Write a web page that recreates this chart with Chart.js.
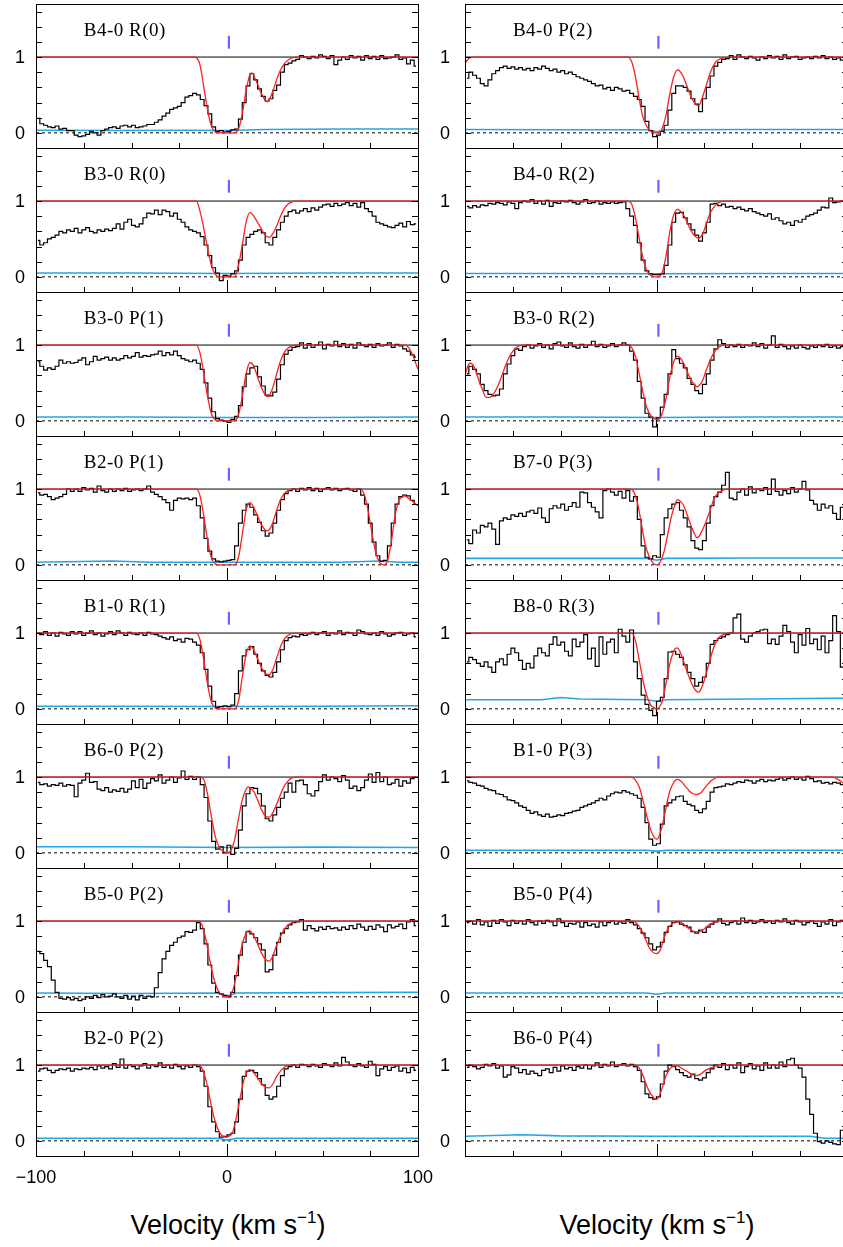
<!DOCTYPE html>
<html>
<head>
<meta charset="utf-8">
<script src="https://cdn.jsdelivr.net/npm/chart.js@4.4.0/dist/chart.umd.min.js"></script>
<style>
  body { margin: 0; background: #fff; overflow: hidden; }
  #wrap { position: relative; width: 843px; height: 1247px; overflow: hidden; }
  #wrap canvas { position: absolute; }
  .vt { position: absolute; width: 300px; top: 1208px; text-align: center;
        font: 27px "Liberation Sans", Arial, sans-serif; line-height: 34px; color: #000; }
  .vt sup { font-size: 17px; vertical-align: 11px; line-height: 0; }
</style>
</head>
<body>
<div id="wrap">
  <div class="vt" style="left:78px">Velocity (km s<sup>−1</sup>)</div>
  <div class="vt" style="left:507px">Velocity (km s<sup>−1</sup>)</div>
</div>
<script>
// velocity grid of the spectra: 2 km/s pixels, centres from -99 to 99
const velocity = Array.from({ length: 100 }, (_, i) => -99 + 2 * i);

// ---- normalised flux, left column ----
const fluxB40R0 = [
  0.19, 0.12, 0.10, 0.08, 0.07, 0.09, 0.05, 0.06, 0.03, 0.03,
  -0.03, -0.05, -0.04, -0.02, 0.02, 0.00, -0.03, 0.03, 0.05, 0.07,
  0.08, 0.06, 0.09, 0.10, 0.08, 0.10, 0.07, 0.08, 0.09, 0.11,
  0.11, 0.14, 0.17, 0.22, 0.26, 0.31, 0.33, 0.35, 0.40, 0.47,
  0.49, 0.52, 0.50, 0.44, 0.36, 0.25, 0.08, 0.02, 0.03, 0.01,
  0.02, 0.04, 0.05, 0.18, 0.40, 0.62, 0.78, 0.70, 0.58, 0.48,
  0.42, 0.45, 0.56, 0.63, 0.80, 0.90, 0.92, 0.95, 0.97, 1.02,
  1.00, 0.98, 1.01, 0.99, 1.03, 1.01, 0.98, 1.02, 0.90, 0.96,
  1.00, 0.97, 1.02, 0.99, 1.01, 0.96, 1.02, 0.98, 1.01, 0.97,
  1.02, 0.98, 0.99, 1.00, 1.03, 0.97, 0.99, 0.91, 0.96, 0.88
];
const fluxB30R0 = [
  0.48, 0.42, 0.45, 0.50, 0.52, 0.55, 0.60, 0.58, 0.62, 0.60,
  0.64, 0.58, 0.62, 0.65, 0.60, 0.58, 0.62, 0.60, 0.63, 0.61,
  0.64, 0.70, 0.63, 0.72, 0.76, 0.68, 0.66, 0.70, 0.78, 0.84,
  0.83, 0.88, 0.82, 0.88, 0.86, 0.80, 0.84, 0.76, 0.72, 0.66,
  0.62, 0.60, 0.58, 0.53, 0.42, 0.28, 0.12, 0.05, -0.05, 0.02,
  0.01, 0.04, 0.08, 0.22, 0.42, 0.52, 0.56, 0.60, 0.62, 0.58,
  0.45, 0.42, 0.52, 0.62, 0.72, 0.80, 0.86, 0.88, 0.84, 0.87,
  0.90, 0.86, 0.91, 0.88, 0.92, 0.95, 0.96, 0.93, 0.97, 0.94,
  0.96, 0.98, 0.94, 0.97, 0.92, 0.98, 0.90, 0.86, 0.80, 0.72,
  0.70, 0.68, 0.66, 0.65, 0.68, 0.71, 0.66, 0.73, 0.69, 0.70
];
const fluxB30P1 = [
  0.78, 0.72, 0.67, 0.70, 0.68, 0.72, 0.80, 0.76, 0.78, 0.76,
  0.77, 0.80, 0.83, 0.74, 0.78, 0.85, 0.80, 0.82, 0.84, 0.80,
  0.83, 0.80, 0.82, 0.86, 0.83, 0.85, 0.90, 0.84, 0.86, 0.85,
  0.87, 0.88, 0.92, 0.86, 0.90, 0.87, 0.92, 0.86, 0.82, 0.80,
  0.78, 0.80, 0.76, 0.68, 0.50, 0.30, 0.12, 0.03, 0.01, 0.00,
  -0.02, 0.02, 0.06, 0.20, 0.45, 0.62, 0.70, 0.72, 0.58, 0.46,
  0.34, 0.33, 0.38, 0.55, 0.74, 0.88, 0.93, 0.97, 0.98, 1.03,
  0.96, 1.02, 0.97, 1.00, 1.04, 0.95, 1.01, 0.99, 1.05, 0.98,
  1.02, 0.97, 1.01, 0.96, 1.03, 1.00, 0.98, 1.01, 0.97, 1.02,
  0.99, 1.00, 1.03, 0.97, 1.01, 0.99, 0.95, 0.92, 0.87, 0.84
];
const fluxB20P1 = [
  0.95, 0.92, 0.93, 0.90, 0.86, 0.88, 0.90, 0.93, 1.00, 0.97,
  1.00, 0.97, 1.02, 0.99, 1.01, 0.96, 1.04, 0.98, 0.96, 1.00,
  0.97, 1.00, 0.98, 1.01, 0.97, 0.99, 1.00, 0.98, 1.00, 1.04,
  0.96, 0.93, 0.90, 0.86, 0.82, 0.72, 0.85, 0.88, 0.87, 0.88,
  0.86, 0.88, 0.78, 0.62, 0.35, 0.18, 0.08, 0.05, 0.04, 0.05,
  0.06, 0.07, 0.25, 0.55, 0.72, 0.80, 0.76, 0.66, 0.56, 0.45,
  0.38, 0.42, 0.55, 0.72, 0.86, 0.94, 0.98, 1.00, 0.97, 1.01,
  0.99, 1.02, 0.98, 1.01, 0.97, 1.00, 1.02, 0.99, 1.01, 0.98,
  1.00, 1.01, 0.99, 0.97, 1.00, 0.92, 0.80, 0.55, 0.30, 0.12,
  0.05, 0.06, 0.25, 0.55, 0.80, 0.90, 0.92, 0.91, 0.85, 0.80
];
const fluxB10R1 = [
  1.00, 0.98, 1.02, 0.97, 1.00, 0.96, 1.01, 0.99, 0.97, 1.02,
  0.99, 1.02, 0.97, 1.00, 1.03, 0.98, 1.00, 0.96, 0.99, 1.02,
  0.98, 1.03, 1.00, 0.97, 1.01, 0.99, 0.98, 1.00, 0.97, 1.01,
  0.99, 0.98, 0.96, 0.94, 0.92, 0.95, 0.90, 0.92, 0.88, 0.93,
  0.92, 0.88, 0.84, 0.74, 0.52, 0.30, 0.10, 0.02, 0.03, 0.04,
  0.03, 0.05, 0.20, 0.50, 0.70, 0.78, 0.82, 0.72, 0.60, 0.50,
  0.44, 0.42, 0.48, 0.62, 0.78, 0.90, 0.94, 0.96, 0.95, 0.98,
  0.97, 0.99, 1.01, 0.98, 1.00, 1.02, 0.97, 1.00, 0.99, 1.03,
  0.98, 1.01, 1.00, 0.97, 1.04, 1.02, 0.99, 0.98, 1.00, 0.97,
  1.02, 0.99, 0.96, 0.98, 1.00, 1.01, 0.97, 0.99, 1.00, 0.95
];
const fluxB60P2 = [
  0.93, 0.90, 0.91, 0.88, 0.90, 0.89, 0.92, 0.88, 0.90, 0.89,
  0.74, 0.92, 0.96, 1.05, 0.93, 0.94, 0.84, 0.82, 0.86, 0.80,
  0.83, 0.81, 0.85, 0.80, 0.84, 0.95, 0.86, 0.97, 0.85, 0.92,
  0.98, 0.95, 1.03, 0.92, 0.96, 1.00, 0.93, 0.99, 1.08, 0.97,
  1.01, 0.97, 1.00, 0.90, 0.73, 0.42, 0.15, 0.05, 0.08, 0.00,
  0.10, -0.02, 0.06, 0.30, 0.62, 0.78, 0.86, 0.85, 0.78, 0.62,
  0.45, 0.42, 0.50, 0.60, 0.72, 0.80, 0.92, 0.80, 0.95, 0.96,
  0.90, 0.78, 0.75, 0.82, 0.94, 1.03, 0.96, 1.00, 0.98, 0.94,
  1.02, 0.96, 0.85, 0.88, 0.82, 0.86, 0.96, 1.04, 0.93, 1.06,
  0.94, 1.00, 0.90, 0.92, 0.97, 0.88, 0.95, 0.92, 0.98, 1.00
];
const fluxB50P2 = [
  0.60, 0.57, 0.48, 0.40, 0.22, 0.06, -0.02, -0.03, -0.01, -0.04,
  -0.02, -0.05, -0.03, 0.00, -0.02, 0.02, -0.01, 0.03, 0.00, 0.01,
  0.04, 0.00, -0.02, 0.02, -0.03, 0.01, -0.04, 0.02, -0.02, 0.01,
  0.00, 0.12, 0.32, 0.50, 0.60, 0.68, 0.72, 0.78, 0.80, 0.86,
  0.85, 0.88, 0.98, 0.90, 0.70, 0.42, 0.18, 0.06, 0.04, 0.02,
  0.00, 0.06, 0.28, 0.55, 0.72, 0.86, 0.83, 0.78, 0.70, 0.62,
  0.33, 0.36, 0.55, 0.72, 0.84, 0.90, 0.95, 0.98, 0.99, 1.02,
  0.88, 0.94, 0.90, 0.87, 0.92, 0.89, 0.93, 0.90, 0.91, 0.88,
  0.92, 0.89, 0.94, 0.90, 0.96, 0.92, 0.88, 0.93, 0.89, 0.95,
  0.92, 0.86, 0.95, 0.91, 0.93, 0.96, 0.90, 0.99, 1.02, 0.94
];
const fluxB20P2 = [
  0.92, 0.95, 0.96, 0.93, 0.90, 0.93, 0.95, 0.94, 0.96, 0.92,
  0.95, 0.94, 0.96, 0.95, 0.97, 0.94, 0.99, 0.96, 0.98, 0.95,
  1.02, 0.97, 1.08, 0.96, 1.00, 0.98, 0.95, 0.99, 1.02, 0.96,
  1.00, 0.98, 1.03, 0.97, 1.00, 0.96, 1.01, 0.98, 0.95, 0.99,
  0.97, 1.00, 0.98, 0.92, 0.72, 0.45, 0.25, 0.12, 0.05, 0.06,
  0.08, 0.10, 0.25, 0.55, 0.85, 0.92, 0.93, 0.90, 0.82, 0.74,
  0.60, 0.55, 0.58, 0.72, 0.86, 0.95, 0.98, 1.00, 0.97, 1.01,
  1.00, 0.98, 1.01, 0.99, 0.97, 1.02, 1.00, 0.98, 1.03, 0.99,
  1.10, 1.04, 1.00, 0.98, 1.02, 0.99, 0.97, 1.05, 1.01, 0.86,
  0.95, 0.98, 0.93, 0.97, 0.99, 0.92, 0.96, 0.90, 0.97, 0.93
];

// ---- normalised flux, right column ----
const fluxB40P2 = [
  0.72, 0.80, 0.76, 0.72, 0.65, 0.62, 0.70, 0.78, 0.82, 0.86,
  0.88, 0.85, 0.87, 0.84, 0.86, 0.83, 0.85, 0.82, 0.86, 0.84,
  0.88, 0.85, 0.82, 0.84, 0.80, 0.82, 0.78, 0.80, 0.77, 0.74,
  0.72, 0.70, 0.68, 0.65, 0.62, 0.63, 0.58, 0.60, 0.56, 0.60,
  0.58, 0.55, 0.56, 0.52, 0.48, 0.44, 0.35, 0.15, 0.03, -0.05,
  -0.03, 0.02, 0.10, 0.30, 0.52, 0.62, 0.62, 0.60, 0.55, 0.45,
  0.38, 0.28, 0.45, 0.60, 0.75, 0.88, 0.93, 0.97, 0.98, 1.02,
  0.97, 1.03, 1.00, 0.98, 1.01, 0.99, 0.96, 1.00, 0.98, 1.02,
  0.99, 1.01, 0.97, 1.03, 0.98, 1.00, 1.01, 0.97, 0.99, 1.00,
  0.98, 1.01, 0.99, 1.02, 0.98, 1.00, 0.97, 0.99, 0.96, 0.98
];
const fluxB40R2 = [
  0.93, 0.91, 0.94, 0.92, 0.95, 0.94, 0.97, 0.96, 0.98, 0.97,
  0.95, 0.99, 0.97, 0.90, 0.98, 1.00, 0.99, 1.02, 0.97, 1.00,
  0.96, 1.01, 0.93, 0.98, 0.97, 1.00, 0.99, 1.01, 0.98, 0.96,
  0.99, 1.02, 0.97, 0.98, 1.00, 0.96, 0.98, 0.97, 0.99, 0.97,
  0.98, 0.99, 0.90, 0.80, 0.68, 0.45, 0.22, 0.08, 0.04, 0.03,
  0.03, 0.04, 0.15, 0.42, 0.72, 0.84, 0.85, 0.78, 0.70, 0.62,
  0.55, 0.47, 0.58, 0.72, 0.96, 0.97, 0.94, 0.96, 0.92, 0.93,
  0.90, 0.92, 0.89, 0.87, 0.90, 0.86, 0.84, 0.82, 0.80, 0.83,
  0.76, 0.78, 0.74, 0.70, 0.72, 0.68, 0.74, 0.72, 0.76, 0.80,
  0.82, 0.84, 0.88, 0.92, 0.91, 1.04, 0.98, 0.99, 1.00, 0.97
];
const fluxB30R2 = [
  0.62, 0.72, 0.68, 0.62, 0.48, 0.40, 0.35, 0.33, 0.34, 0.42,
  0.62, 0.75, 0.86, 0.95, 0.93, 0.98, 1.00, 0.96, 0.99, 1.02,
  0.97, 1.00, 0.95, 1.02, 1.04, 0.99, 0.97, 1.03, 0.98, 0.96,
  1.01, 0.97, 1.00, 1.05, 0.98, 1.01, 0.97, 0.99, 1.02, 0.98,
  1.00, 1.03, 1.00, 0.92, 0.80, 0.52, 0.30, 0.10, 0.05, -0.08,
  0.04, 0.18, 0.35, 0.62, 0.94, 0.82, 0.76, 0.70, 0.56, 0.48,
  0.40, 0.36, 0.48, 0.62, 0.80, 0.95, 1.07, 1.02, 0.97, 1.00,
  0.98, 1.01, 0.97, 1.00, 0.99, 1.03, 0.98, 1.02, 0.96, 1.00,
  1.12, 0.97, 1.01, 0.98, 0.95, 0.99, 0.96, 1.00, 0.97, 0.95,
  0.99, 0.97, 1.00, 0.98, 1.01, 0.97, 0.99, 0.96, 0.98, 0.96
];
const fluxB70P3 = [
  0.33, 0.28, 0.46, 0.42, 0.52, 0.50, 0.55, 0.47, 0.27, 0.58,
  0.62, 0.60, 0.66, 0.64, 0.68, 0.64, 0.70, 0.72, 0.68, 0.75,
  0.62, 0.56, 0.74, 0.78, 0.75, 0.80, 0.72, 0.77, 0.82, 0.76,
  0.96, 0.95, 0.82, 0.76, 0.70, 0.62, 0.98, 1.00, 0.96, 0.92,
  0.97, 0.88, 0.98, 0.84, 0.90, 0.60, 0.25, 0.10, 0.08, 0.12,
  0.10, 0.40, 0.62, 0.74, 0.80, 0.82, 0.72, 0.62, 0.50, 0.32,
  0.22, 0.20, 0.32, 0.55, 0.78, 0.90, 0.96, 1.05, 1.22, 0.88,
  0.86, 0.96, 1.00, 0.92, 1.03, 0.95, 1.00, 0.98, 1.02, 0.93,
  1.13, 0.97, 0.92, 0.98, 0.94, 1.02, 0.96, 1.00, 1.10, 0.99,
  0.85, 0.80, 0.72, 0.80, 0.75, 0.78, 0.68, 0.60, 0.76, 0.80
];
const fluxB80R3 = [
  0.62, 0.68, 0.65, 0.60, 0.56, 0.62, 0.55, 0.48, 0.62, 0.66,
  0.58, 0.72, 0.80, 0.74, 0.64, 0.52, 0.60, 0.54, 0.70, 0.80,
  0.74, 0.70, 0.85, 0.95, 0.84, 0.88, 0.76, 0.70, 0.92, 0.82,
  0.88, 0.98, 0.66, 0.80, 0.56, 0.95, 0.72, 0.88, 0.92, 0.74,
  1.05, 0.96, 0.88, 1.04, 0.62, 0.40, 0.18, 0.06, -0.02, -0.09,
  0.10, 0.15, 0.40, 0.75, 0.76, 0.72, 0.68, 0.58, 0.48, 0.40,
  0.30, 0.35, 0.42, 0.60, 0.85, 0.90, 0.93, 0.95, 0.98, 1.00,
  1.20, 1.25, 0.92, 0.88, 0.96, 1.00, 1.02, 1.04, 1.05, 0.86,
  0.92, 0.85, 0.96, 1.10, 1.02, 0.88, 0.74, 0.98, 0.84, 1.06,
  0.86, 0.92, 0.78, 0.96, 0.74, 0.90, 1.23, 1.02, 0.55, 0.60
];
const fluxB10P3 = [
  0.95, 0.93, 0.92, 0.89, 0.88, 0.85, 0.83, 0.82, 0.78, 0.77,
  0.74, 0.70, 0.69, 0.66, 0.62, 0.60, 0.56, 0.52, 0.54, 0.50,
  0.48, 0.51, 0.47, 0.48, 0.50, 0.49, 0.52, 0.53, 0.55, 0.56,
  0.60, 0.62, 0.64, 0.66, 0.69, 0.72, 0.70, 0.75, 0.78, 0.80,
  0.79, 0.82, 0.80, 0.78, 0.76, 0.72, 0.60, 0.40, 0.18, 0.10,
  0.12, 0.38, 0.62, 0.66, 0.70, 0.74, 0.75, 0.68, 0.64, 0.62,
  0.56, 0.53, 0.58, 0.68, 0.80, 0.86, 0.87, 0.88, 0.91, 0.90,
  0.92, 0.94, 0.93, 0.96, 0.95, 0.92, 0.95, 0.97, 0.94, 0.96,
  0.95, 0.97, 0.99, 0.96, 0.98, 1.00, 0.97, 0.99, 0.96, 1.01,
  0.98, 0.94, 0.95, 0.92, 0.93, 0.91, 0.93, 0.92, 0.90, 0.91
];
const fluxB50P4 = [
  0.98, 1.00, 0.96, 1.02, 0.95, 0.99, 0.93, 1.01, 0.97, 1.02,
  0.99, 0.94, 1.01, 0.97, 1.00, 0.96, 1.02, 0.98, 0.95, 1.00,
  0.97, 1.01, 0.99, 0.94, 1.03, 0.98, 0.93, 0.97, 0.96, 0.99,
  0.92, 0.98, 0.94, 0.96, 0.92, 0.99, 0.94, 0.98, 1.00, 0.96,
  0.99, 0.97, 1.02, 0.98, 0.95, 0.90, 0.84, 0.78, 0.70, 0.62,
  0.66, 0.72, 0.85, 0.93, 0.98, 0.99, 0.96, 0.94, 0.92, 0.86,
  0.84, 0.88, 0.85, 0.92, 0.96, 0.99, 1.03, 0.97, 0.95, 0.98,
  1.00, 0.96, 1.04, 0.98, 1.01, 0.97, 0.99, 1.02, 0.98, 1.00,
  0.97, 1.01, 0.99, 1.03, 0.98, 0.96, 1.01, 0.99, 0.95, 0.98,
  1.00, 0.97, 0.93, 0.99, 0.96, 1.02, 0.94, 0.99, 1.01, 0.97
];
const fluxB60P4 = [
  0.97, 1.00, 0.98, 0.95, 0.97, 1.01, 0.99, 1.02, 0.96, 0.99,
  0.84, 0.87, 0.98, 0.96, 0.90, 0.94, 0.88, 0.92, 0.89, 0.86,
  0.93, 0.95, 0.90, 0.97, 0.92, 0.99, 0.95, 0.97, 0.93, 0.98,
  0.96, 1.00, 0.95, 0.99, 1.03, 0.97, 1.01, 0.99, 1.04, 0.98,
  1.00, 1.02, 0.99, 1.01, 0.98, 0.93, 0.78, 0.62, 0.57, 0.55,
  0.58, 0.75, 0.92, 1.00, 0.98, 0.94, 0.90, 0.86, 0.84, 0.88,
  0.82, 0.80, 0.83, 0.90, 0.95, 1.00, 0.97, 1.02, 0.94, 1.00,
  0.96, 1.03, 0.90, 0.98, 1.02, 0.95, 0.99, 0.93, 1.03, 0.96,
  1.00, 0.96, 1.04, 0.98, 1.07, 1.09, 1.00, 0.96, 0.84, 0.55,
  0.35, 0.10, -0.01, -0.03, 0.00, -0.02, -0.04, -0.05, 0.14, 0.12
];

// ---- fitted profiles [velocity, flux] ----
const modelB40R0 = [[-100,1],[-17,1],[-15,0.96],[-14,0.88],[-12,0.58],[-10,0.28],[-8,0.08],[-6,0.01],[-4,0],[4,0],[6,0.05],[8,0.25],[10,0.56],[12,0.77],[13,0.79],[14,0.76],[16,0.64],[18,0.52],[20,0.43],[21,0.41],[22,0.43],[24,0.55],[26,0.7],[28,0.83],[30,0.91],[32,0.96],[34,0.99],[37,1],[100,1]];
const modelB30R0 = [[-100,1],[-16,1],[-14,0.85],[-12,0.62],[-10,0.35],[-8,0.14],[-6,0.03],[-4,0],[4,0],[6,0.15],[8,0.42],[10,0.72],[12,0.85],[14,0.8],[16,0.72],[18,0.63],[20,0.55],[22,0.52],[24,0.57],[26,0.67],[28,0.8],[30,0.9],[32,0.96],[34,0.99],[36,1],[100,1]];
const modelB30P1 = [[-100,1],[-16,1],[-14,0.88],[-12,0.6],[-10,0.3],[-8,0.08],[-6,0.01],[-4,0],[4,0],[6,0.08],[8,0.32],[10,0.62],[12,0.77],[14,0.72],[16,0.58],[18,0.44],[20,0.34],[21,0.32],[22,0.33],[24,0.44],[26,0.62],[28,0.79],[30,0.9],[32,0.96],[34,0.99],[36,1],[93,1],[95,0.97],[97,0.88],[100,0.68]];
const modelB20P1 = [[-100,1],[-16,1],[-14,0.9],[-12,0.62],[-10,0.3],[-8,0.08],[-6,0.01],[-4,0],[4,0],[6,0.1],[8,0.4],[10,0.72],[11,0.8],[12,0.82],[14,0.76],[16,0.64],[18,0.53],[20,0.46],[21,0.45],[22,0.46],[24,0.56],[26,0.72],[28,0.86],[30,0.94],[32,0.98],[34,1],[70,1],[72,0.92],[74,0.7],[76,0.4],[78,0.15],[80,0.03],[82,0],[84,0.05],[86,0.3],[88,0.65],[90,0.85],[92,0.9],[93,0.91],[95,0.88],[97,0.84],[100,0.78]];
const modelB10R1 = [[-100,1],[-16,1],[-14,0.9],[-12,0.62],[-10,0.3],[-8,0.08],[-6,0.01],[-4,0],[4,0],[6,0.1],[8,0.42],[10,0.72],[12,0.83],[14,0.78],[16,0.66],[18,0.55],[20,0.47],[22,0.45],[24,0.52],[26,0.67],[28,0.82],[30,0.92],[32,0.97],[35,1],[100,1]];
const modelB60P2 = [[-100,1],[-14,1],[-12,0.96],[-10,0.75],[-8,0.45],[-6,0.2],[-4,0.07],[-2,0.02],[0,0],[2,0.03],[4,0.17],[6,0.45],[8,0.7],[10,0.84],[11,0.87],[12,0.86],[14,0.81],[16,0.7],[18,0.57],[20,0.49],[22,0.47],[24,0.53],[26,0.64],[28,0.77],[30,0.88],[32,0.95],[34,0.99],[36,1],[100,1]];
const modelB50P2 = [[-100,1],[-15,1],[-13,0.94],[-11,0.75],[-9,0.48],[-7,0.25],[-5,0.1],[-3,0.03],[-1,0],[1,0.01],[3,0.08],[5,0.3],[7,0.58],[9,0.78],[11,0.87],[12,0.87],[14,0.8],[16,0.7],[18,0.58],[20,0.5],[22,0.47],[24,0.54],[26,0.68],[28,0.8],[30,0.89],[32,0.95],[35,0.99],[38,1],[100,1]];
const modelB20P2 = [[-100,1],[-15,1],[-13,0.95],[-11,0.8],[-9,0.56],[-7,0.33],[-5,0.17],[-3,0.08],[-1,0.05],[0,0.05],[1,0.06],[3,0.12],[5,0.32],[7,0.58],[9,0.82],[11,0.93],[12,0.94],[14,0.9],[16,0.83],[18,0.76],[20,0.71],[22,0.7],[24,0.75],[26,0.85],[28,0.92],[30,0.97],[33,1],[100,1]];
const modelB40P2 = [[-100,0.92],[-98,0.98],[-96,1],[-15,1],[-13,0.94],[-11,0.74],[-9,0.44],[-7,0.2],[-5,0.08],[-3,0.02],[-1,0],[1,0],[3,0.06],[5,0.24],[7,0.52],[9,0.74],[11,0.83],[12,0.82],[14,0.74],[16,0.61],[18,0.48],[20,0.39],[22,0.36],[24,0.47],[26,0.63],[28,0.79],[30,0.9],[32,0.96],[35,0.99],[38,1],[100,1]];
const modelB40R2 = [[-100,1],[-15,1],[-13,0.96],[-11,0.78],[-9,0.5],[-7,0.24],[-5,0.08],[-3,0.02],[-1,0],[1,0],[3,0.06],[5,0.28],[7,0.6],[9,0.82],[11,0.89],[12,0.88],[14,0.82],[16,0.72],[18,0.61],[20,0.54],[22,0.51],[24,0.56],[26,0.7],[28,0.84],[30,0.92],[32,0.97],[35,1],[100,1]];
const modelB30R2 = [[-100,0.6],[-98,0.75],[-97,0.76],[-95,0.7],[-93,0.55],[-91,0.42],[-89,0.31],[-87,0.31],[-85,0.36],[-83,0.45],[-81,0.58],[-79,0.72],[-77,0.84],[-75,0.92],[-73,0.97],[-70,1],[-15,1],[-13,0.97],[-11,0.85],[-9,0.62],[-7,0.37],[-5,0.17],[-3,0.07],[-1,0.03],[0,0.02],[1,0.02],[3,0.1],[5,0.3],[7,0.58],[9,0.78],[11,0.85],[12,0.84],[14,0.77],[16,0.65],[18,0.54],[20,0.47],[21,0.45],[22,0.46],[24,0.53],[26,0.67],[28,0.8],[30,0.9],[32,0.96],[35,1],[100,1]];
const modelB70P3 = [[-100,1],[-14,1],[-12,0.97],[-10,0.82],[-8,0.56],[-6,0.28],[-4,0.12],[-2,0.03],[0,0],[2,0.04],[4,0.18],[6,0.42],[8,0.66],[10,0.82],[11,0.86],[12,0.85],[14,0.79],[16,0.66],[18,0.52],[20,0.4],[21,0.36],[22,0.37],[24,0.46],[26,0.58],[28,0.72],[30,0.87],[32,0.94],[35,0.99],[37,1],[100,1]];
const modelB80R3 = [[-100,1],[-13,1],[-11,0.9],[-9,0.64],[-7,0.37],[-5,0.17],[-3,0.05],[-1,0.01],[0,0],[1,0.01],[3,0.1],[5,0.34],[7,0.6],[9,0.76],[10,0.8],[11,0.8],[13,0.71],[15,0.56],[17,0.42],[19,0.3],[21,0.23],[22,0.22],[23,0.25],[25,0.38],[27,0.56],[29,0.74],[31,0.88],[33,0.95],[36,0.99],[38,1],[100,1]];
const modelB10P3 = [[-100,1],[-13,1],[-11,0.96],[-9,0.87],[-7,0.69],[-5,0.48],[-3,0.3],[-1,0.2],[0,0.18],[1,0.2],[3,0.36],[5,0.6],[7,0.82],[9,0.93],[10,0.96],[11,0.97],[13,0.94],[15,0.88],[17,0.82],[19,0.78],[21,0.77],[23,0.79],[25,0.85],[27,0.91],[29,0.96],[32,1],[92,1],[94,0.98],[96,0.95],[98,0.9],[100,0.82]];
const modelB50P4 = [[-100,1],[-12,1],[-10,0.96],[-8,0.89],[-6,0.78],[-4,0.66],[-2,0.59],[0,0.57],[2,0.62],[4,0.78],[6,0.9],[8,0.96],[10,0.99],[12,0.99],[14,0.96],[16,0.92],[18,0.88],[20,0.86],[22,0.86],[24,0.88],[26,0.92],[28,0.96],[31,0.99],[34,1],[100,1]];
const modelB60P4 = [[-100,1],[-11,1],[-9,0.96],[-7,0.86],[-5,0.72],[-3,0.62],[-1,0.56],[0,0.55],[1,0.57],[3,0.7],[5,0.86],[7,0.95],[9,0.99],[11,0.99],[13,0.96],[15,0.93],[17,0.9],[19,0.87],[21,0.86],[23,0.88],[25,0.92],[27,0.95],[30,0.98],[33,1],[100,1]];

// ---- 1-sigma error spectra [velocity, flux] ----
const errB40R0 = [[-100,0.035],[-60,0.03],[-20,0.035],[0,0.03],[20,0.045],[60,0.05],[100,0.05]];
const errB30R0 = [[-100,0.05],[-50,0.05],[0,0.045],[50,0.05],[100,0.05]];
const errB30P1 = [[-100,0.05],[-50,0.05],[0,0.045],[50,0.045],[100,0.05]];
const errB20P1 = [[-100,0.035],[-60,0.05],[-40,0.035],[0,0.035],[60,0.035],[80,0.05],[90,0.035],[100,0.035]];
const errB10R1 = [[-100,0.035],[-50,0.035],[0,0.03],[50,0.035],[100,0.04]];
const errB60P2 = [[-100,0.08],[-50,0.08],[0,0.07],[50,0.075],[100,0.07]];
const errB50P2 = [[-100,0.05],[-50,0.045],[-5,0.05],[0,0.01],[5,0.05],[50,0.055],[100,0.06]];
const errB20P2 = [[-100,0.035],[-50,0.035],[-5,0.035],[0,0.01],[5,0.035],[50,0.035],[100,0.035]];
const errB40P2 = [[-100,0.045],[-50,0.04],[-5,0.04],[0,0.015],[5,0.04],[50,0.045],[100,0.045]];
const errB40R2 = [[-100,0.045],[-50,0.045],[0,0.04],[50,0.045],[100,0.045]];
const errB30R2 = [[-100,0.05],[-50,0.05],[0,0.045],[50,0.05],[100,0.05]];
const errB70P3 = [[-100,0.085],[-50,0.085],[-5,0.085],[0,0.06],[5,0.085],[50,0.09],[100,0.09]];
const errB80R3 = [[-100,0.12],[-60,0.12],[-50,0.15],[-40,0.13],[-5,0.12],[0,0.1],[5,0.12],[50,0.13],[90,0.14],[100,0.14]];
const errB10P3 = [[-100,0.035],[-50,0.035],[-5,0.035],[0,0.02],[5,0.035],[50,0.035],[100,0.035]];
const errB50P4 = [[-100,0.05],[-50,0.05],[-5,0.05],[0,0.035],[5,0.05],[50,0.05],[100,0.05]];
const errB60P4 = [[-100,0.06],[-70,0.08],[-50,0.065],[0,0.06],[50,0.06],[80,0.06],[88,0.035],[100,0.035]];

// reference levels and the marker of the fitted component
const CONTINUUM = 1;
const ZERO = 0;
const MARK_V = 1;
const MARK_Y = [1.11, 1.28];

const panels = [
  { name: 'B4-0 R(0)', col: 0, row: 0, flux: fluxB40R0, model: modelB40R0, err: errB40R0 },
  { name: 'B3-0 R(0)', col: 0, row: 1, flux: fluxB30R0, model: modelB30R0, err: errB30R0 },
  { name: 'B3-0 P(1)', col: 0, row: 2, flux: fluxB30P1, model: modelB30P1, err: errB30P1 },
  { name: 'B2-0 P(1)', col: 0, row: 3, flux: fluxB20P1, model: modelB20P1, err: errB20P1 },
  { name: 'B1-0 R(1)', col: 0, row: 4, flux: fluxB10R1, model: modelB10R1, err: errB10R1 },
  { name: 'B6-0 P(2)', col: 0, row: 5, flux: fluxB60P2, model: modelB60P2, err: errB60P2 },
  { name: 'B5-0 P(2)', col: 0, row: 6, flux: fluxB50P2, model: modelB50P2, err: errB50P2 },
  { name: 'B2-0 P(2)', col: 0, row: 7, flux: fluxB20P2, model: modelB20P2, err: errB20P2 },
  { name: 'B4-0 P(2)', col: 1, row: 0, flux: fluxB40P2, model: modelB40P2, err: errB40P2 },
  { name: 'B4-0 R(2)', col: 1, row: 1, flux: fluxB40R2, model: modelB40R2, err: errB40R2 },
  { name: 'B3-0 R(2)', col: 1, row: 2, flux: fluxB30R2, model: modelB30R2, err: errB30R2 },
  { name: 'B7-0 P(3)', col: 1, row: 3, flux: fluxB70P3, model: modelB70P3, err: errB70P3 },
  { name: 'B8-0 R(3)', col: 1, row: 4, flux: fluxB80R3, model: modelB80R3, err: errB80R3 },
  { name: 'B1-0 P(3)', col: 1, row: 5, flux: fluxB10P3, model: modelB10P3, err: errB10P3 },
  { name: 'B5-0 P(4)', col: 1, row: 6, flux: fluxB50P4, model: modelB50P4, err: errB50P4 },
  { name: 'B6-0 P(4)', col: 1, row: 7, flux: fluxB60P4, model: modelB60P4, err: errB60P4 }
];

// canvas geometry per column
const COLS = [
  { left: 0, width: 440, padL: 36, padR: 22, labelGap: 11 },
  { left: 425, width: 425, padL: 40, padR: 2, labelGap: 15 }
];
const ROW_H = 144;
const LAST_ROW = 7;

const frame = {
  id: 'frame',
  afterDatasetsDraw(chart) {
    const { ctx, chartArea: a, scales: { x, y } } = chart;
    const o = chart.options.plugins.frame;
    ctx.save();
    ctx.strokeStyle = '#000';
    ctx.lineWidth = 1;
    ctx.strokeRect(Math.round(a.left) + 0.5, Math.round(a.top) + 0.5,
                   Math.round(a.width), Math.round(a.height));
    ctx.beginPath();
    [-75, -50, -25, 0, 25, 50, 75].forEach(v => {
      const px = Math.round(x.getPixelForValue(v)) + 0.5;
      ctx.moveTo(px, a.bottom);
      ctx.lineTo(px, a.bottom - (v === 0 ? 12 : 5));
    });
    for (let k = 0; k <= 8; k++) {
      const py = Math.round(y.getPixelForValue(k * 0.2)) + 0.5;
      ctx.moveTo(a.left, py); ctx.lineTo(a.left + 6, py);
      ctx.moveTo(a.right, py); ctx.lineTo(a.right - 6, py);
    }
    ctx.stroke();

    ctx.fillStyle = '#000';
    ctx.font = '18px "Liberation Sans", Arial, sans-serif';
    ctx.textAlign = 'right';
    ctx.textBaseline = 'middle';
    ctx.fillText('1', a.left - o.labelGap, y.getPixelForValue(1) + 1);
    ctx.fillText('0', a.left - o.labelGap, y.getPixelForValue(0) + 1);
    if (o.xLabels) {
      ctx.textAlign = 'center';
      ctx.fillText('\u2212100', x.getPixelForValue(-100), a.bottom + 22);
      ctx.fillText('0', x.getPixelForValue(0), a.bottom + 22);
      ctx.fillText('100', x.getPixelForValue(100), a.bottom + 22);
    }

    ctx.font = '19px "Liberation Serif", "Times New Roman", serif';
    ctx.letterSpacing = '0.5px';
    ctx.textAlign = 'left';
    ctx.textBaseline = 'alphabetic';
    ctx.fillText(o.name, x.getPixelForValue(-75), a.top + 32);
    ctx.restore();
  }
};

const wrap = document.getElementById('wrap');
const pts = arr => arr.map(([v, f]) => ({ x: v, y: f }));

panels.forEach(p => {
  const c = COLS[p.col];
  const extra = (p.col === 0 && p.row === LAST_ROW) ? 40 : 0;
  const canvas = document.createElement('canvas');
  canvas.width = c.width;
  canvas.height = ROW_H + 8 + extra;
  canvas.style.left = c.left + 'px';
  canvas.style.top = (ROW_H * p.row) + 'px';
  canvas.style.width = c.width + 'px';
  canvas.style.height = (ROW_H + 8 + extra) + 'px';
  wrap.appendChild(canvas);

  new Chart(canvas, {
    type: 'line',
    data: {
      datasets: [
        { data: pts(p.model), borderColor: '#ff1f1f', borderWidth: 1.3,
          cubicInterpolationMode: 'monotone', pointRadius: 0, clip: 0 },
        { data: p.flux.map((f, i) => ({ x: velocity[i], y: f })), borderColor: '#000',
          borderWidth: 1.2, stepped: 'middle', pointRadius: 0, clip: 0 },
        { data: pts(p.err), borderColor: '#22a6e8', borderWidth: 1.6,
          pointRadius: 0, clip: 0 },
        { data: [{ x: MARK_V, y: MARK_Y[0] }, { x: MARK_V, y: MARK_Y[1] }],
          borderColor: '#7a5cff', borderWidth: 2.2, pointRadius: 0, clip: 0 },
        { data: [{ x: -100, y: CONTINUUM }, { x: 100, y: CONTINUUM }],
          borderColor: '#000', borderWidth: 1, pointRadius: 0, clip: 0 },
        { data: [{ x: -100, y: ZERO }, { x: 100, y: ZERO }],
          borderColor: '#000', borderWidth: 1, borderDash: [3, 3], pointRadius: 0, clip: 0 }
      ]
    },
    options: {
      responsive: false,
      animation: false,
      events: [],
      layout: { padding: { left: c.padL, right: c.padR, top: 4, bottom: 4 + extra } },
      plugins: {
        legend: { display: false },
        tooltip: { enabled: false },
        frame: { name: p.name, labelGap: c.labelGap, xLabels: extra > 0 }
      },
      scales: {
        x: { type: 'linear', min: -100, max: 100, display: false },
        y: { type: 'linear', min: -0.2, max: 1.7, display: false }
      }
    },
    plugins: [frame]
  });
});
</script>
</body>
</html>
